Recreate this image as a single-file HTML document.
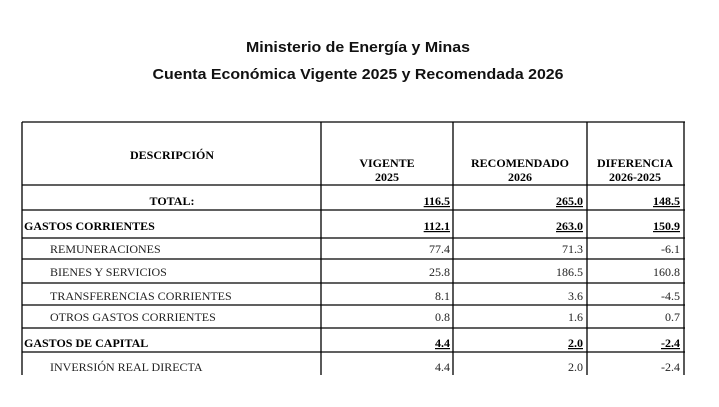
<!DOCTYPE html>
<html><head><meta charset="utf-8"><style>
html,body{margin:0;padding:0;background:#fff;}
svg{display:block}
.t{font-family:"Liberation Sans",sans-serif;font-weight:bold;font-size:15px;fill:#111}
.s{font-family:"Liberation Serif",serif;font-size:12px;fill:#222}
.b{font-weight:bold;fill:#000}
</style></head><body>
<svg width="719" height="407" viewBox="0 0 719 407" xmlns="http://www.w3.org/2000/svg">
<text class="t" x="358" y="52" text-anchor="middle" textLength="224" lengthAdjust="spacingAndGlyphs">Ministerio de Energía y Minas</text>
<text class="t" x="358" y="79" text-anchor="middle" textLength="411" lengthAdjust="spacingAndGlyphs">Cuenta Económica Vigente 2025 y Recomendada 2026</text>
<g stroke="#000" stroke-width="1.3">
<line x1="22" y1="122" x2="685" y2="122"/>
<line x1="22" y1="185" x2="685" y2="185"/>
<line x1="22" y1="210" x2="685" y2="210"/>
<line x1="22" y1="238" x2="685" y2="238"/>
<line x1="22" y1="259" x2="685" y2="259"/>
<line x1="22" y1="283" x2="685" y2="283"/>
<line x1="22" y1="305" x2="685" y2="305"/>
<line x1="22" y1="328" x2="685" y2="328"/>
<line x1="22" y1="352" x2="685" y2="352"/>
<line x1="22" y1="122" x2="22" y2="375"/>
<line x1="321" y1="122" x2="321" y2="375"/>
<line x1="453" y1="122" x2="453" y2="375"/>
<line x1="587" y1="122" x2="587" y2="375"/>
<line x1="684" y1="122" x2="684" y2="375"/>
</g>
<g class="s b">
<text x="172" y="159" text-anchor="middle">DESCRIPCIÓN</text>
<text x="387" y="167" text-anchor="middle">VIGENTE</text>
<text x="387" y="181" text-anchor="middle">2025</text>
<text x="520" y="167" text-anchor="middle">RECOMENDADO</text>
<text x="520" y="181" text-anchor="middle">2026</text>
<text x="635" y="167" text-anchor="middle">DIFERENCIA</text>
<text x="635" y="181" text-anchor="middle">2026-2025</text>
<text x="172" y="205" text-anchor="middle">TOTAL:</text>
<text x="24" y="230">GASTOS CORRIENTES</text>
<text x="24" y="347">GASTOS DE CAPITAL</text>
</g>
<g class="s b" text-anchor="end" text-decoration="underline">
<text x="450" y="205">116.5</text><text x="583" y="205">265.0</text><text x="680" y="205">148.5</text>
<text x="450" y="230">112.1</text><text x="583" y="230">263.0</text><text x="680" y="230">150.9</text>
<text x="450" y="347">4.4</text><text x="583" y="347">2.0</text><text x="680" y="347">-2.4</text>
</g>
<g class="s">
<text x="50" y="253">REMUNERACIONES</text>
<text x="50" y="276">BIENES Y SERVICIOS</text>
<text x="50" y="300">TRANSFERENCIAS CORRIENTES</text>
<text x="50" y="321">OTROS GASTOS CORRIENTES</text>
<text x="50" y="371">INVERSIÓN REAL DIRECTA</text>
</g>
<g class="s" text-anchor="end">
<text x="450" y="253">77.4</text><text x="583" y="253">71.3</text><text x="680" y="253">-6.1</text>
<text x="450" y="276">25.8</text><text x="583" y="276">186.5</text><text x="680" y="276">160.8</text>
<text x="450" y="300">8.1</text><text x="583" y="300">3.6</text><text x="680" y="300">-4.5</text>
<text x="450" y="321">0.8</text><text x="583" y="321">1.6</text><text x="680" y="321">0.7</text>
<text x="450" y="371">4.4</text><text x="583" y="371">2.0</text><text x="680" y="371">-2.4</text>
</g>
</svg>
</body></html>
